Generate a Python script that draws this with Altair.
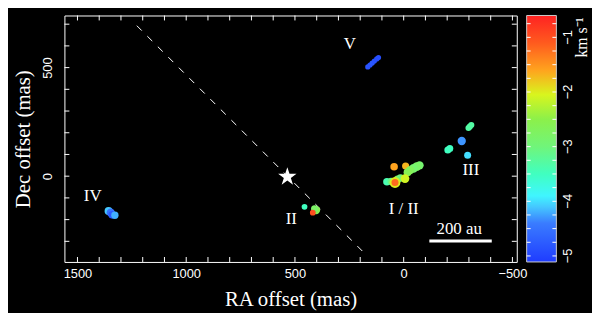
import altair as alt
import pandas as pd

# ---- maser spots: RA offset (mas), Dec offset (mas), velocity (km/s), marker area ----
spot_ra = [1357, 1347, 1340, 1328,
           165, 155, 145, 135, 124, 116,
           -298, -304, -311, -267, -203, -212, -294,
           44, -9, -73, -60, -45, -30, -18, 28, 15, -6, 77, 58, 40, 40,
           456, 403, 410, 418]
spot_dec = [-160, -168, -178, -180,
            503, 512, 521, 530, 540, 546,
            222, 228, 236, 162, 121, 128, 96,
            43, 47, 50, 44, 36, 28, 18, -14, -8, -11, -26, -24, -29, -29,
            -141, -156, -150, -168]
spot_vel = [-4.1, -4.5, -4.8, -4.2,
            -4.85, -4.85, -4.8, -4.85, -4.9, -4.9,
            -3.3, -3.3, -3.3, -4.3, -3.5, -3.5, -4.0,
            -1.6, -1.7, -2.9, -2.8, -2.9, -2.7, -2.6, -2.7, -3.0, -2.1, -3.4, -3.1, -2.0, -1.2,
            -3.5, -2.6, -2.8, -1.0]
spot_size = [65, 70, 60, 55,
             28, 28, 28, 28, 28, 28,
             38, 38, 38, 70, 50, 50, 50,
             58, 52, 70, 78, 78, 70, 65, 58, 58, 78, 58, 52, 120, 50,
             34, 70, 50, 34]

star_ra = [535]
star_dec = [-3]
line_ra = [1227, 168]
line_dec = [693, -367]

label_text = ["V", "IV", "II", "I / II", "III"]
label_ra = [248, 1430, 517, 0, -309]
label_dec = [609, -90, -198, -150, 28]

bar_ra = [-118]
bar_ra2 = [-405]
bar_dec = [-298]
bar_label = ["200 au"]
bar_label_ra = [-255]
bar_label_dec = [-243]

x_ticks = [-500, -400, -300, -200, -100, 0, 100, 200, 300, 400, 500, 600, 700,
           800, 900, 1000, 1100, 1200, 1300, 1400, 1500]
x_labels = [-500, 0, 500, 1000, 1500]
y_ticks = [-300, -200, -100, 0, 100, 200, 300, 400, 500, 600, 700]
y_labels = [0, 500]
cb_ticks = [-5.0, -4.75, -4.5, -4.25, -4.0, -3.75, -3.5, -3.25, -3.0, -2.75, -2.5,
            -2.25, -2.0, -1.75, -1.5, -1.25, -1.0, -0.75]
cb_labels = [-5, -4, -3, -2, -1]
cb_title = ["km s⁻¹"]

cmap_vals = [-5.11, -4.4, -4.1, -3.9, -3.5, -3.0, -2.5, -2.05, -1.6, -1.1, -0.6]
cmap_cols = ["#1f3cff", "#3a7cff", "#45c8ff", "#40f5ff", "#40ffc0", "#70f57a",
             "#8cf04a", "#d8f51e", "#ffa31e", "#ff5a1e", "#ff2222"]

X_DOM = [-520, 1560]
Y_DOM = [-395, 740]

W, H = 457, 249
TK = 5
CB_X0, CB_X1 = W + 10, W + 40
WHITE = "white"
SANS = "Liberation Sans"
SERIF = "Liberation Serif"
STAR_PATH = ("M0,-1 L0.225,-0.309 L0.951,-0.309 L0.363,0.118 L0.588,0.809 L0,0.382 "
             "L-0.588,0.809 L-0.363,0.118 L-0.951,-0.309 L-0.225,-0.309 Z")

xs = alt.Scale(domain=X_DOM, reverse=True, nice=False, zero=False)
ys = alt.Scale(domain=Y_DOM, nice=False, zero=False)
cs = alt.Scale(domain=cmap_vals, range=cmap_cols, interpolate="rgb")

spots = pd.DataFrame({"ra": spot_ra, "dec": spot_dec, "v": spot_vel, "s": spot_size})
star = pd.DataFrame({"ra": star_ra, "dec": star_dec})
line = pd.DataFrame({"ra": line_ra, "dec": line_dec})
labels = pd.DataFrame({"t": label_text, "ra": label_ra, "dec": label_dec})
bar = pd.DataFrame({"ra": bar_ra, "ra2": bar_ra2, "dec": bar_dec})
bar_t = pd.DataFrame({"t": bar_label, "ra": bar_label_ra, "dec": bar_label_dec})
xt = pd.DataFrame({"t": x_ticks})
yt = pd.DataFrame({"t": y_ticks})

x_axis = alt.Axis(values=x_labels, format="d", ticks=False, tickSize=0, domain=False, grid=False,
                  labelOverlap=False, labelFlush=False, labelColor=WHITE, labelFont=SANS,
                  labelFontSize=13, labelPadding=6, title="RA offset (mas)", titleFont=SERIF,
                  titleFontSize=21, titleFontWeight="normal", titleColor=WHITE, titlePadding=8)
y_axis = alt.Axis(values=y_labels, format="d", ticks=False, tickSize=0, domain=False, grid=False,
                  labelOverlap=False, labelFlush=False, labelAngle=270, labelAlign="center",
                  labelBaseline="bottom", labelColor=WHITE, labelFont=SANS, labelFontSize=13,
                  labelPadding=10, title="Dec offset (mas)", titleFont=SERIF, titleFontSize=21,
                  titleFontWeight="normal", titleColor=WHITE, titlePadding=8)

X = lambda f, **k: alt.X(f, scale=xs, **k)
Y = lambda f, **k: alt.Y(f, scale=ys, **k)

dash = alt.Chart(line).mark_line(color=WHITE, strokeWidth=1, strokeDash=[7, 8]).encode(
    x=X("ra:Q", axis=x_axis), y=Y("dec:Q", axis=y_axis))

pts = alt.Chart(spots).mark_circle(opacity=1, strokeWidth=0).encode(
    x=X("ra:Q"), y=Y("dec:Q"),
    color=alt.Color("v:Q", scale=cs, legend=None),
    size=alt.Size("s:Q", scale=None, legend=None),
)

star_m = alt.Chart(star).mark_point(shape=STAR_PATH, filled=True, color=WHITE, opacity=1,
                                    size=380, strokeWidth=0).encode(x=X("ra:Q"), y=Y("dec:Q"))

lab_m = alt.Chart(labels).mark_text(color=WHITE, font=SERIF, fontSize=17, baseline="middle").encode(
    x=X("ra:Q"), y=Y("dec:Q"), text="t:N")

bar_m = alt.Chart(bar).mark_rule(color=WHITE, strokeWidth=3).encode(
    x=X("ra:Q"), x2="ra2:Q", y=Y("dec:Q"))

bar_tm = alt.Chart(bar_t).mark_text(color=WHITE, font=SERIF, fontSize=17, baseline="middle").encode(
    x=X("ra:Q"), y=Y("dec:Q"), text="t:N")

# inward ticks on all four sides of the frame
tick_mark = dict(color=WHITE, strokeWidth=1)
xt_bot = alt.Chart(xt).mark_rule(**tick_mark).encode(x=X("t:Q"), y=alt.value(H - TK), y2=alt.value(H))
xt_top = alt.Chart(xt).mark_rule(**tick_mark).encode(x=X("t:Q"), y=alt.value(0), y2=alt.value(TK))
yt_lft = alt.Chart(yt).mark_rule(**tick_mark).encode(y=Y("t:Q"), x=alt.value(0), x2=alt.value(TK))
yt_rgt = alt.Chart(yt).mark_rule(**tick_mark).encode(y=Y("t:Q"), x=alt.value(W - TK), x2=alt.value(W))

# ---- colour bar, drawn beside the frame; velocity mapped onto the frame height ----
vmin, vmax = cmap_vals[0], cmap_vals[-1]


def to_dec(field):
    return f"{Y_DOM[0]} + (datum.{field} - ({vmin})) / ({vmax} - ({vmin})) * ({Y_DOM[1]} - ({Y_DOM[0]}))"


grad = alt.LinearGradient(
    gradient="linear",
    stops=[alt.GradientStop(offset=(v - vmin) / (vmax - vmin), color=c) for v, c in zip(cmap_vals, cmap_cols)],
    x1=0, x2=0, y1=1, y2=0,
)
cb_df = pd.DataFrame({"v0": [vmin], "v1": [vmax]})
cb_rect = alt.Chart(cb_df).transform_calculate(d0=to_dec("v0"), d1=to_dec("v1")).mark_rect(
    color=grad, stroke="#cccccc", strokeWidth=1).encode(
    x=alt.value(CB_X0), x2=alt.value(CB_X1), y=Y("d0:Q"), y2="d1:Q")

cbt = pd.DataFrame({"v": cb_ticks})
cb_t_l = alt.Chart(cbt).transform_calculate(d=to_dec("v")).mark_rule(**tick_mark).encode(
    y=Y("d:Q"), x=alt.value(CB_X0), x2=alt.value(CB_X0 + 4))
cb_t_r = alt.Chart(cbt).transform_calculate(d=to_dec("v")).mark_rule(**tick_mark).encode(
    y=Y("d:Q"), x=alt.value(CB_X1 - 4), x2=alt.value(CB_X1))

cbl = pd.DataFrame({"v": cb_labels})
cb_lab = alt.Chart(cbl).transform_calculate(d=to_dec("v")).mark_text(
    color=WHITE, font=SANS, fontSize=13, angle=270, align="center", baseline="top").encode(
    y=Y("d:Q"), x=alt.value(CB_X1 + 6), text=alt.Text("v:Q", format="d"))

cb_tt = alt.Chart(pd.DataFrame({"t": cb_title})).mark_text(
    color=WHITE, font=SERIF, fontSize=16, angle=270, align="right", baseline="top").encode(
    x=alt.value(CB_X1 + 18), y=alt.value(2), text="t:N")

chart = alt.layer(
    dash, pts, star_m, lab_m, bar_m, bar_tm, xt_bot, xt_top, yt_lft, yt_rgt,
    cb_rect, cb_t_l, cb_t_r, cb_lab, cb_tt,
).properties(
    width=W, height=H,
    background="black",
    padding={"left": 5, "top": 5, "right": 2, "bottom": 2},
).configure_view(stroke=WHITE, strokeWidth=1)

chart.save("out.html", embed_options={"renderer": "svg", "actions": False})
